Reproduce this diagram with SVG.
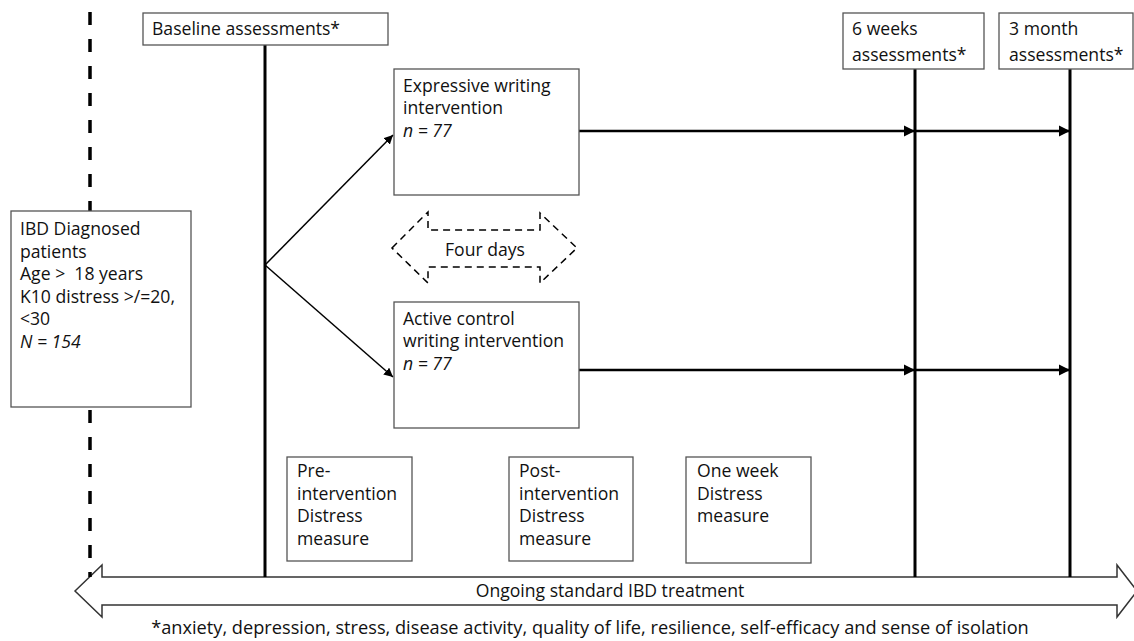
<svg xmlns="http://www.w3.org/2000/svg" width="1134" height="641" viewBox="0 0 1134 641">
<style>
.box{fill:#fff;stroke:#555;stroke-width:1.3}
.t{font-family:"Open Sans","Noto Sans","Liberation Sans",sans-serif;font-size:17.6px;fill:#111}
.f{font-size:18.2px}
.i{font-style:italic}
.v{stroke:#000;stroke-width:3;fill:none}
.a{stroke:#000;stroke-width:2.5;fill:none}
.d{stroke:#000;stroke-width:1.5;fill:none}
</style>
<defs>
<marker id="ah" viewBox="0 0 10 10" refX="10" refY="5" markerWidth="4.5" markerHeight="4.5" orient="auto" markerUnits="strokeWidth">
<path d="M0,0 L10,5 L0,10 z" fill="#000"/>
</marker>
<marker id="ah2" viewBox="0 0 10 10" refX="10" refY="5" markerWidth="6" markerHeight="6" orient="auto" markerUnits="strokeWidth">
<path d="M0,0 L10,5 L0,10 z" fill="#000"/>
</marker>
</defs>
<rect width="1134" height="641" fill="#fff"/>

<g id="treatment">
<polygon points="75,591 102,565 102,577 1117,577 1117,565 1137,591 1117,617 1117,605 102,605 102,617" fill="#fff" stroke="#333" stroke-width="1.5"/>
<text class="t" x="610" y="597" text-anchor="middle">Ongoing standard IBD treatment</text>
</g>

<g id="connectors">
<line x1="90" y1="12" x2="90" y2="211" stroke="#000" stroke-width="3.5" stroke-dasharray="13 14"/>
<line x1="90" y1="410" x2="90" y2="577" stroke="#000" stroke-width="3.5" stroke-dasharray="13 14"/>
<line class="v" x1="265" y1="45" x2="265" y2="577"/>
<line class="v" x1="915" y1="69" x2="915" y2="577"/>
<line class="v" x1="1070" y1="69" x2="1070" y2="577"/>
<line class="d" x1="265" y1="265" x2="393" y2="135" marker-end="url(#ah2)"/>
<line class="d" x1="265" y1="265" x2="393" y2="377" marker-end="url(#ah2)"/>
<line class="a" x1="579" y1="131" x2="915" y2="131" marker-end="url(#ah)"/>
<line class="a" x1="915" y1="131" x2="1070" y2="131" marker-end="url(#ah)"/>
<line class="a" x1="579" y1="370" x2="915" y2="370" marker-end="url(#ah)"/>
<line class="a" x1="915" y1="370" x2="1070" y2="370" marker-end="url(#ah)"/>
</g>

<g id="baseline">
<rect class="box" x="143" y="13" width="245" height="32"/>
<text class="t" x="152" y="35">Baseline assessments*</text>
</g>

<g id="six-weeks">
<rect class="box" x="843" y="13" width="141" height="56"/>
<text class="t" x="852" y="35">6 weeks</text>
<text class="t" x="852" y="61">assessments*</text>
</g>

<g id="three-month">
<rect class="box" x="999" y="13" width="134" height="56"/>
<text class="t" x="1009" y="35">3 month</text>
<text class="t" x="1009" y="61">assessments*</text>
</g>

<g id="patients">
<rect class="box" x="11" y="211" width="180" height="196"/>
<text class="t" x="20" y="235">IBD Diagnosed</text>
<text class="t" x="20" y="257.5">patients</text>
<text class="t" x="20" y="280">Age &gt;&#160; 18 years</text>
<text class="t" x="20" y="302.5">K10 distress &gt;/=20,</text>
<text class="t" x="20" y="325">&lt;30</text>
<text class="t i" x="20" y="347.5">N = 154</text>
</g>

<g id="expressive">
<rect class="box" x="394" y="69" width="185" height="126"/>
<text class="t" x="403" y="92">Expressive writing</text>
<text class="t" x="403" y="114">intervention</text>
<text class="t i" x="403" y="137">n = 77</text>
</g>

<g id="four-days">
<polygon points="392,248 428,212 428,230 540,230 540,213 577,248 540,283 540,267 428,267 428,283" fill="none" stroke="#000" stroke-width="1.5" stroke-dasharray="7 5"/>
<text class="t" x="485" y="256" text-anchor="middle">Four days</text>
</g>

<g id="active">
<rect class="box" x="394" y="302" width="185" height="126"/>
<text class="t" x="403" y="325">Active control</text>
<text class="t" x="403" y="347">writing intervention</text>
<text class="t i" x="403" y="370">n = 77</text>
</g>

<g id="pre">
<rect class="box" x="287" y="457" width="125" height="104"/>
<text class="t" x="297" y="477">Pre-</text>
<text class="t" x="297" y="500">intervention</text>
<text class="t" x="297" y="522">Distress</text>
<text class="t" x="297" y="545">measure</text>
</g>

<g id="post">
<rect class="box" x="509" y="457" width="124" height="104"/>
<text class="t" x="519" y="477">Post-</text>
<text class="t" x="519" y="500">intervention</text>
<text class="t" x="519" y="522">Distress</text>
<text class="t" x="519" y="545">measure</text>
</g>

<g id="one-week">
<rect class="box" x="686" y="457" width="125" height="106"/>
<text class="t" x="697" y="477">One week</text>
<text class="t" x="697" y="500">Distress</text>
<text class="t" x="697" y="522">measure</text>
</g>

<g id="footnote">
<text class="t f" x="590" y="634" text-anchor="middle">*anxiety, depression, stress, disease activity, quality of life, resilience, self-efficacy and sense of isolation</text>
</g>
</svg>
